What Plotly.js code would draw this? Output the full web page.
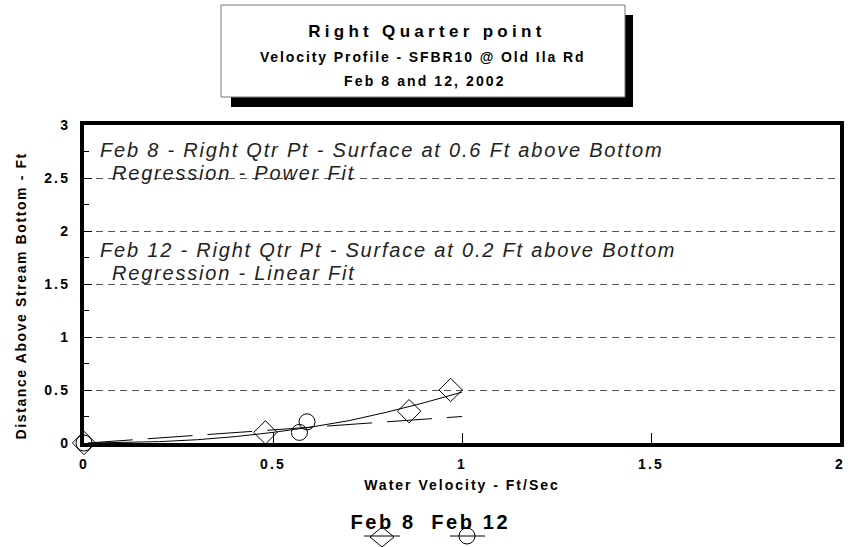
<!DOCTYPE html>
<html>
<head>
<meta charset="utf-8">
<script src="https://cdn.plot.ly/plotly-3.0.1.min.js"></script>
<style>
html,body{margin:0;padding:0;background:#fff;}
#chart{width:850px;height:547px;}
.xtick text, .ytick text, text.xtick, text.ytick { letter-spacing: 2.2px; }
.xtitle { letter-spacing: 2px; }
.annotation[data-index="0"] text { letter-spacing: 4.3px; }
.annotation[data-index="1"] text { letter-spacing: 1.9px; }
.annotation[data-index="2"] text { letter-spacing: 2.1px; }
.annotation[data-index="3"] text,
.annotation[data-index="4"] text,
.annotation[data-index="5"] text,
.annotation[data-index="6"] text { letter-spacing: 1.8px; }
.annotation[data-index="7"] text,
.annotation[data-index="8"] text { letter-spacing: 2.6px; }
.annotation[data-index="9"] text { letter-spacing: 1.6px; }
</style>
</head>
<body>
<div id="chart"></div>
<script>
// Observed data
const feb8Velocity = [0, 0.48, 0.86, 0.97];
const feb8Depth = [0, 0.1, 0.3, 0.5];
const feb12Velocity = [0, 0.57, 0.59];
const feb12Depth = [0, 0.1, 0.2];
// Regression curves
const powerFitX = [0.02, 0.1, 0.2, 0.3, 0.4, 0.5, 0.6, 0.7, 0.8, 0.9, 1.0];
const powerFitY = [0.0, 0.003, 0.013, 0.031, 0.06, 0.1, 0.15, 0.21, 0.29, 0.38, 0.48];
const linearFitX = [0.01, 1.0];
const linearFitY = [0.0, 0.25];
// Axis ticks
const yTickVals = [0, 0.5, 1, 1.5, 2, 2.5, 3];
const yTickText = ["0", "0.5", "1", "1.5", "2", "2.5", "3"];
const xTickVals = [0, 0.5, 1, 1.5, 2];
const xTickText = ["0", "0.5", "1", "1.5", "2"];
const seriesNames = ["Feb 8", "Feb 12"];

const FONT = "Liberation Sans, Arial, sans-serif";
const W = 850, H = 547, L = 84, R = 10, T = 125, B = 104;
const PW = W - L - R, PH = H - T - B;
const px = x => (x - L) / PW;
const py = y => (H - B - y) / PH;

const traces = [
  {x: powerFitX, y: powerFitY, mode: 'lines', line: {color: '#000', width: 1}, showlegend: false, hoverinfo: 'skip'},
  {x: linearFitX, y: linearFitY, mode: 'lines', line: {color: '#000', width: 1, dash: '45px,15px'}, showlegend: false, hoverinfo: 'skip'},
  {x: feb8Velocity, y: feb8Depth, name: seriesNames[0], mode: 'markers', cliponaxis: false,
   marker: {symbol: 'diamond-open', size: 18, color: '#000', line: {width: 1, color: '#000'}}, showlegend: false},
  {x: feb12Velocity, y: feb12Depth, name: seriesNames[1], mode: 'markers', cliponaxis: false,
   marker: {symbol: 'circle-open', size: 16, color: '#000', line: {width: 1, color: '#000'}}, showlegend: false}
];

const italic = {family: FONT, size: 20, color: '#222', style: 'italic'};
const bold = s => ({family: FONT, size: s, weight: 'bold', color: '#000'});
const annotations = [
  {text: 'Right Quarter point', x: px(427), y: py(32), font: bold(17)},
  {text: 'Velocity Profile - SFBR10 @ Old Ila Rd', x: px(422), y: py(57), font: bold(14)},
  {text: 'Feb 8 and 12, 2002', x: px(425), y: py(81), font: bold(14)},
  {text: 'Feb 8 - Right Qtr Pt - Surface at 0.6 Ft above Bottom', x: px(98), y: py(150), xanchor: 'left', align: 'left', font: italic},
  {text: 'Regression - Power Fit', x: px(110), y: py(173), xanchor: 'left', align: 'left', font: italic},
  {text: 'Feb 12 - Right Qtr Pt - Surface at 0.2 Ft above Bottom', x: px(98), y: py(250), xanchor: 'left', align: 'left', font: italic},
  {text: 'Regression - Linear Fit', x: px(110), y: py(273), xanchor: 'left', align: 'left', font: italic},
  {text: seriesNames[0], x: px(383), y: py(522), font: bold(20)},
  {text: seriesNames[1], x: px(470), y: py(522), font: bold(20)},
  {text: 'Distance Above Stream Bottom - Ft', x: px(21), y: py(296), textangle: -90, font: bold(14)}
].map(a => Object.assign({xref: 'paper', yref: 'paper', showarrow: false, xanchor: 'center', yanchor: 'middle'}, a));

const shapes = [
  {type: 'rect', xref: 'paper', yref: 'paper', x0: px(231), x1: px(633), y0: py(107), y1: py(15), fillcolor: '#000', line: {width: 0}},
  {type: 'rect', xref: 'paper', yref: 'paper', x0: px(221), x1: px(625), y0: py(97), y1: py(5), fillcolor: '#fff', line: {width: 1, color: '#777'}},
  // legend symbols
  {type: 'line', xref: 'paper', yref: 'paper', x0: px(364), x1: px(400), y0: py(536), y1: py(536), line: {width: 1, color: '#000'}},
  {type: 'path', xref: 'paper', yref: 'paper', path: `M ${px(370)} ${py(537)} L ${px(382)} ${py(527)} L ${px(394)} ${py(537)} L ${px(382)} ${py(547)} Z`, line: {width: 1, color: '#000'}},
  {type: 'line', xref: 'paper', yref: 'paper', x0: px(450), x1: px(485), y0: py(536), y1: py(536), line: {width: 1, color: '#000'}},
  {type: 'circle', xref: 'paper', yref: 'paper', x0: px(459), x1: px(475), y0: py(544), y1: py(528), line: {width: 1, color: '#000'}}
];

const layout = {
  width: W, height: H,
  margin: {l: L, r: R, t: T, b: B, pad: 0},
  paper_bgcolor: '#fff', plot_bgcolor: '#fff',
  showlegend: false,
  font: {family: FONT, color: '#000'},
  xaxis: {
    range: [0, 2], tickvals: xTickVals, ticktext: xTickText,
    showgrid: false, zeroline: false,
    showline: true, linewidth: 4, linecolor: '#000', mirror: true,
    ticks: 'inside', ticklen: 10, tickwidth: 1, tickcolor: '#000',
    ticklabelstandoff: 5,
    tickfont: bold(14),
    title: {text: 'Water Velocity - Ft/Sec', standoff: 10, font: bold(14)},
    automargin: false, fixedrange: true
  },
  yaxis: {
    range: [0, 3], tickvals: yTickVals, ticktext: yTickText,
    showgrid: true, gridcolor: '#555', gridwidth: 1, griddash: '7px,5px',
    zeroline: false,
    showline: true, linewidth: 4, linecolor: '#000', mirror: true,
    ticks: 'inside', ticklen: 8, tickwidth: 1, tickcolor: '#000',
    ticklabelstandoff: 7,
    minor: {dtick: 0.25, tick0: 0, ticks: 'inside', ticklen: 5, tickcolor: '#000', showgrid: false},
    tickfont: bold(14),
    automargin: false, fixedrange: true
  },
  annotations: annotations,
  shapes: shapes
};

Plotly.newPlot('chart', traces, layout, {displayModeBar: false, staticPlot: true});
</script>
</body>
</html>
